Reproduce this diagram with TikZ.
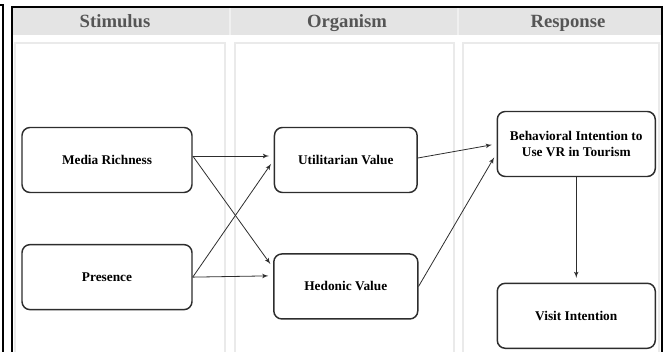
\documentclass[tikz,border=0pt]{standalone}
\usepackage{fontspec}
\setmainfont{Liberation Serif}
\usetikzlibrary{arrows, positioning}
\definecolor{headgray}{RGB}{228,228,228}
\definecolor{panelgray}{RGB}{234,234,234}
\definecolor{boxline}{RGB}{45,45,45}
\definecolor{headtext}{RGB}{85,85,85}
\tikzset{
>=latex', % small filled arrow heads
node distance=40pt, % default gap between the boxes
block/.style={draw=boxline, line width=1.1pt, rounded corners=6pt, fill=white, align=center, inner sep=2pt, minimum height=48.75pt, font=\fontsize{10}{12}\selectfont\bfseries}, % the construct boxes
link/.style={->, draw=boxline, line width=0.6pt, shorten >=3.5pt}, % the paths between constructs
heading/.style={anchor=base, text=headtext, font=\fontsize{14}{16}\selectfont\bfseries}, % column titles
}
\tikzset{
  frame/.style={draw=black, line width=1.9pt},
  panel/.style={draw=panelgray, line width=1.2pt}
}

\begin{document}
\begin{tikzpicture}[x=0.75pt, y=-0.75pt]
      \useasboundingbox (0,0) rectangle (665,352);

      % background: frame, header band and the three columns
      \fill[headgray] (13,8) rectangle (661,35);
      \draw[white!94!black, line width=1pt] (230,8) -- (230,35) (458,8) -- (458,35);
      \draw[panel] (15,352) -- (15,43) -- (225,43) -- (225,352);
      \draw[panel] (235,352) -- (235,43) -- (454,43) -- (454,352);
      \draw[panel] (463,352) -- (463,43) -- (659,43) -- (659,352);
      \draw[frame, line width=2.2pt] (0,5) -- (3,5) -- (3,352);
      \draw[frame] (12,352) -- (12,7) -- (662,7) -- (662,352);

      \node[heading] (stim) at (115,28) {Stimulus};
      \node[heading] (org) at (347,28) {Organism};
      \node[heading] (resp) at (568,28) {Response};

      % constructs
      \node[block, minimum width=127.5pt] (mr) at (107,160) {Media Richness};
      \node[block, minimum width=127.5pt, below=38pt of mr] (pr) {Presence};
      \node[block, minimum width=107pt, right=60.75pt of mr] (uv) {Utilitarian Value};
      \node[block, minimum width=108pt, below=45pt of uv] (hv) {Hedonic Value};
      \node[block, minimum width=118.5pt, right=59pt of uv, yshift=12pt] (bi) {Behavioral Intention to\\Use VR in Tourism};
      \node[block, minimum width=118.5pt, below=79pt of bi] (vi) {Visit Intention};

      \path ([yshift=3pt]mr.east) edge[link] ([yshift=3pt]uv.west)
      ([yshift=3pt]mr.east) edge[link] ([yshift=14pt]hv.west)
      (pr.east) edge[link] (uv.west)
      (pr.east) edge[link] ([yshift=8pt]hv.west)
      ([yshift=1.5pt]uv.east) edge[link] (bi.west)
      (hv.east) edge[link] ([yshift=-7pt]bi.west)
      (bi.south) edge[link] (vi.north);
    \end{tikzpicture}
\end{document}
